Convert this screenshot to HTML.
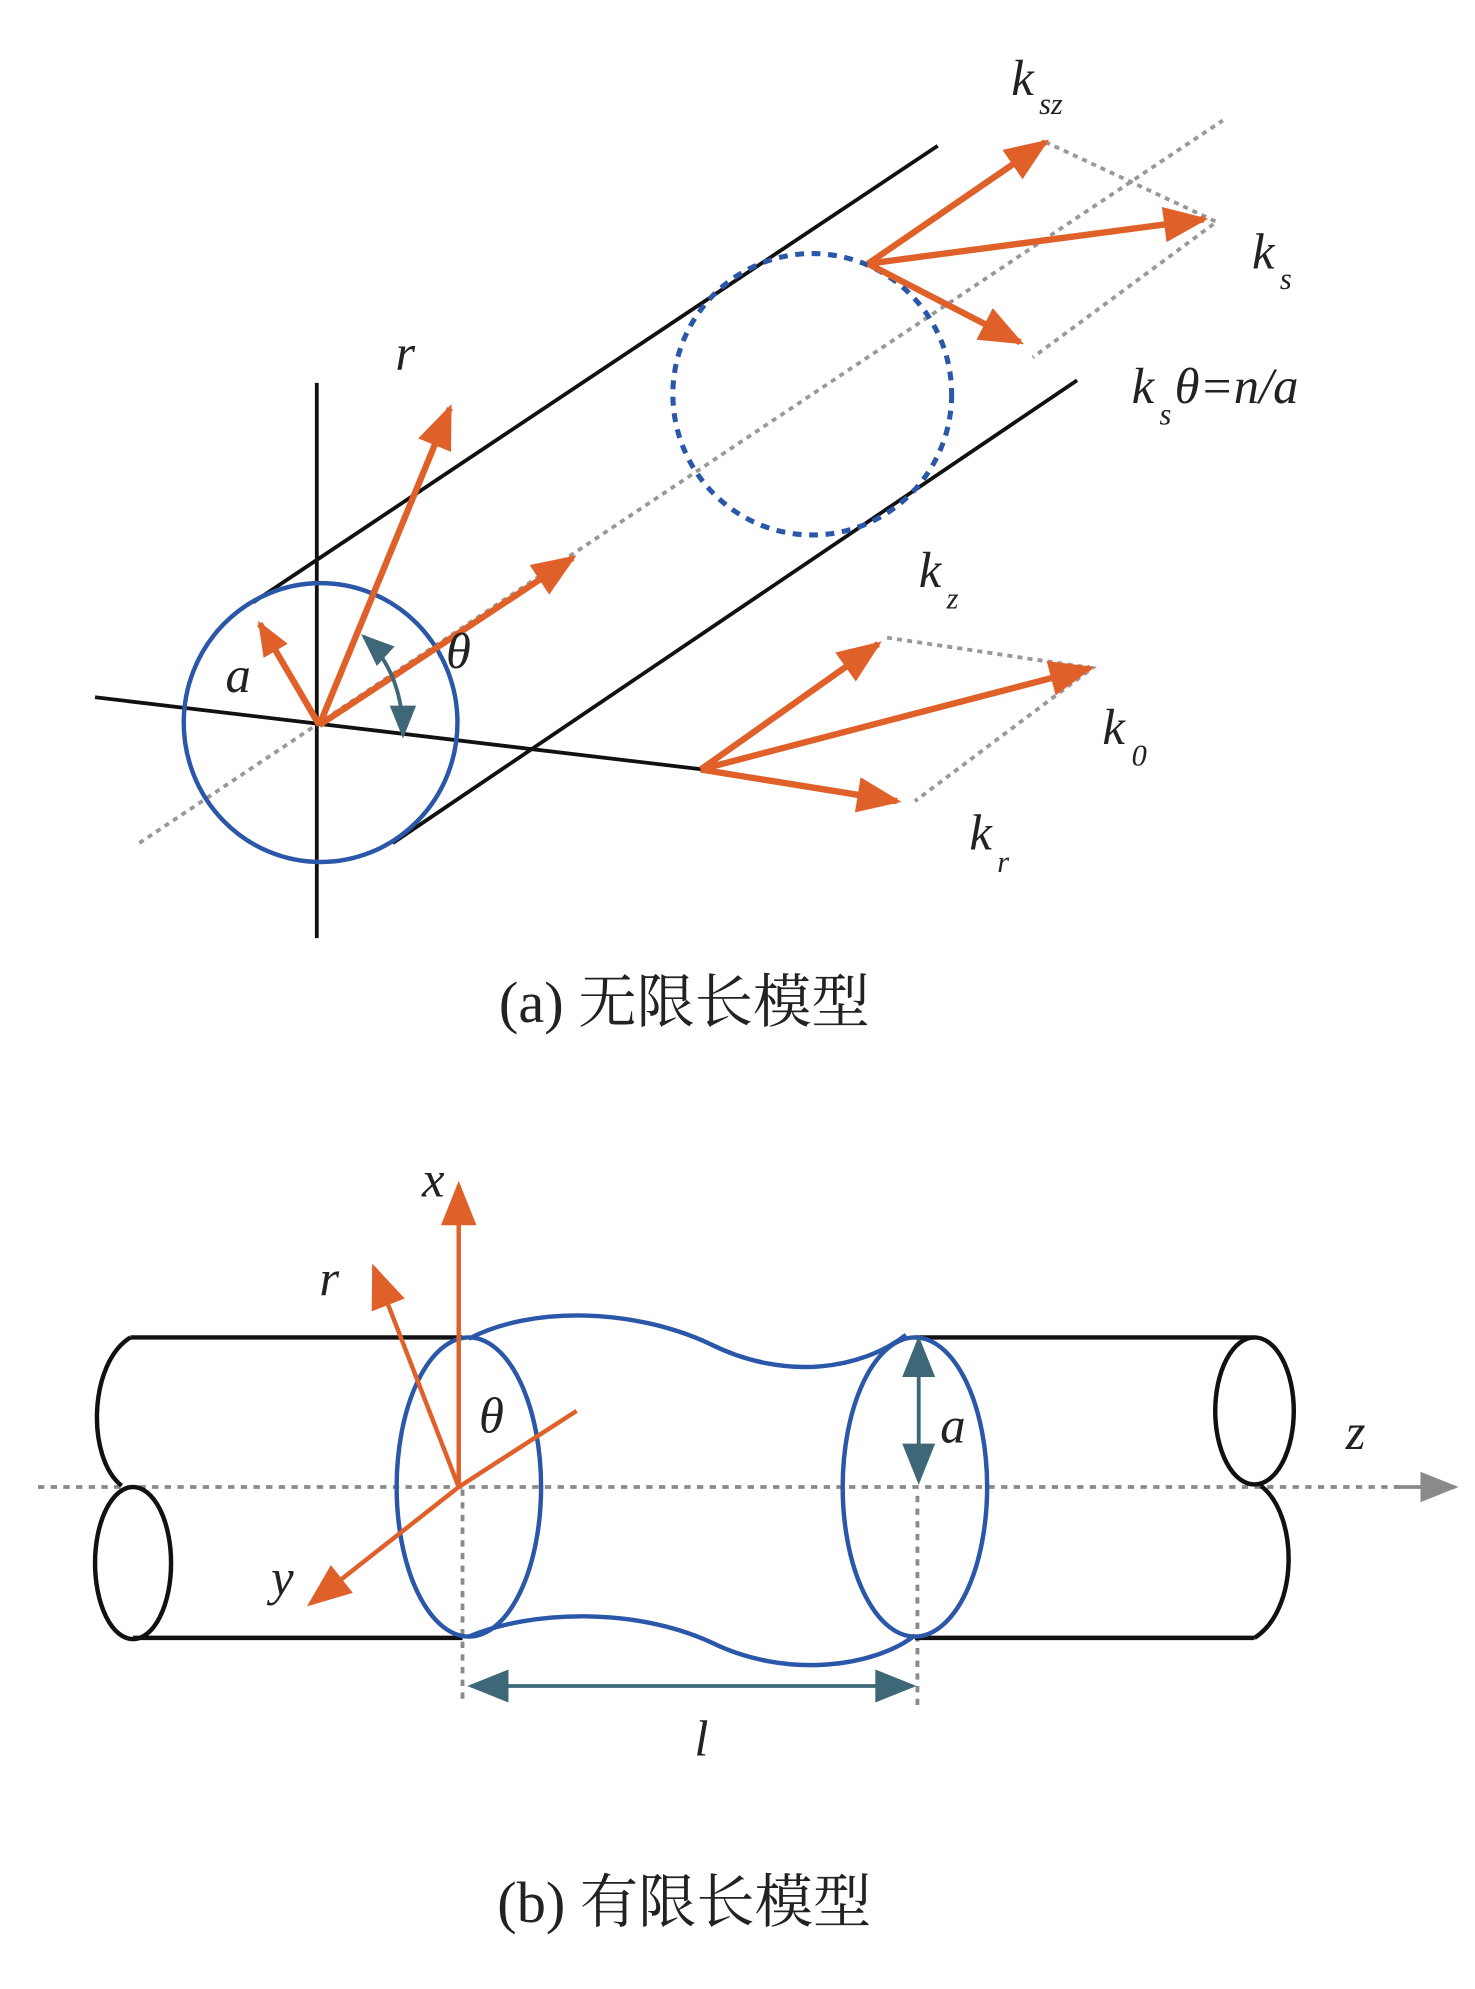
<!DOCTYPE html>
<html><head><meta charset="utf-8"><style>
html,body{margin:0;padding:0;background:#fff}
svg{display:block}
text{font-family:"Liberation Serif","Noto Serif CJK SC",serif;font-style:italic;fill:#222}
.cap{font-style:normal;font-size:46px}
</style></head><body>
<svg width="1475" height="1989" viewBox="0 0 1164 1569" preserveAspectRatio="none" xmlns="http://www.w3.org/2000/svg">
<defs>
<marker id="oa" viewBox="0 0 10 8" markerWidth="40" markerHeight="28" refX="9" refY="4" orient="auto" markerUnits="userSpaceOnUse"><path d="M0,0L10,4L0,8z" fill="#e0602a"/></marker>
<marker id="ob" viewBox="0 0 10 8" markerWidth="30" markerHeight="22" refX="9" refY="4" orient="auto" markerUnits="userSpaceOnUse"><path d="M0,0L10,4L0,8z" fill="#e0602a"/></marker>
<marker id="t" viewBox="0 0 10 8" markerWidth="40" markerHeight="26" refX="9" refY="4" orient="auto-start-reverse" markerUnits="userSpaceOnUse"><path d="M0,0L10,4L0,8z" fill="#3e6878"/></marker>
<marker id="ts" viewBox="0 0 10 8" markerWidth="26" markerHeight="24" refX="9" refY="4" orient="auto-start-reverse" markerUnits="userSpaceOnUse"><path d="M0,0L10,4L0,8z" fill="#3e6878"/></marker>
<marker id="g" viewBox="0 0 10 8" markerWidth="44" markerHeight="24" refX="9" refY="4" orient="auto" markerUnits="userSpaceOnUse"><path d="M0,0L10,4L0,8z" fill="#8a8a8a"/></marker>
</defs>
<!-- (a) -->
<g fill="none">
<line x1="110" y1="665" x2="965" y2="95" stroke="#999" stroke-width="3" stroke-dasharray="4,4"/>
<polyline points="825,112 960,175 815,282" stroke="#999" stroke-width="3" stroke-dasharray="4,4"/>
<polyline points="700,503 862,527 722,632" stroke="#999" stroke-width="3" stroke-dasharray="4,4"/>
<line x1="250" y1="302" x2="250" y2="740" stroke="#111" stroke-width="3"/>
<line x1="75" y1="550" x2="555" y2="607" stroke="#111" stroke-width="3"/>
<line x1="200" y1="475" x2="740" y2="115" stroke="#111" stroke-width="3"/>
<line x1="310" y1="665" x2="850" y2="300" stroke="#111" stroke-width="3"/>
<ellipse cx="253" cy="570" rx="108" ry="110" stroke="#2b57a8" stroke-width="3.5"/>
<ellipse cx="641" cy="311" rx="110" ry="111" stroke="#2b57a8" stroke-width="4" stroke-dasharray="7,6"/>
<g stroke="#e0602a" stroke-width="5">
<line x1="252" y1="572" x2="355" y2="322" marker-end="url(#oa)"/>
<line x1="252" y1="572" x2="452" y2="440" marker-end="url(#oa)"/>
<line x1="252" y1="572" x2="205" y2="492" marker-end="url(#ob)"/>
<line x1="685" y1="208" x2="825" y2="112" marker-end="url(#oa)"/>
<line x1="685" y1="208" x2="950" y2="173" marker-end="url(#oa)"/>
<line x1="685" y1="208" x2="805" y2="270" marker-end="url(#oa)"/>
<line x1="553" y1="607" x2="693" y2="508" marker-end="url(#oa)"/>
<line x1="553" y1="607" x2="860" y2="527" marker-end="url(#oa)"/>
<line x1="553" y1="607" x2="708" y2="632" marker-end="url(#oa)"/>
</g>
<path d="M287,502 Q318,530 318,580" stroke="#3e6878" stroke-width="3" marker-start="url(#ts)" marker-end="url(#ts)"/>
</g>
<text x="312" y="292" font-size="40">r</text>
<text x="178" y="546" font-size="40">a</text>
<text x="352" y="527" font-size="40">θ</text>
<text x="798" y="75" font-size="40">k</text><text x="820" y="90" font-size="24">sz</text>
<text x="988" y="212" font-size="40">k</text><text x="1010" y="228" font-size="24">s</text>
<text x="893" y="318" font-size="40">k</text><text x="915" y="335" font-size="24">s</text><text x="927" y="318" font-size="40">θ=n/a</text>
<text x="725" y="463" font-size="40">k</text><text x="747" y="480" font-size="24">z</text>
<text x="870" y="587" font-size="40">k</text><text x="893" y="604" font-size="24">0</text>
<text x="765" y="670" font-size="40">k</text><text x="787" y="688" font-size="24">r</text>
<text x="540" y="806" class="cap" text-anchor="middle">(a) 无限长模型</text>
<!-- (b) -->
<g fill="none" stroke-width="3.5">
<line x1="30" y1="1173" x2="1105" y2="1173" stroke="#8a8a8a" stroke-width="3" stroke-dasharray="5,5"/>
<line x1="1100" y1="1173" x2="1148" y2="1173" stroke="#8a8a8a" stroke-width="3" marker-end="url(#g)"/>
<line x1="365" y1="1175" x2="365" y2="1345" stroke="#8a8a8a" stroke-width="3" stroke-dasharray="5,5"/>
<line x1="724" y1="1180" x2="724" y2="1350" stroke="#8a8a8a" stroke-width="3" stroke-dasharray="5,5"/>
<g stroke="#111">
<line x1="103" y1="1055" x2="365" y2="1055"/>
<line x1="105" y1="1292" x2="365" y2="1292"/>
<path d="M103,1055 C70,1075 68,1150 96,1172"/>
<ellipse cx="105" cy="1233" rx="30" ry="60"/>
<line x1="722" y1="1055" x2="990" y2="1055"/>
<line x1="722" y1="1292" x2="990" y2="1292"/>
<ellipse cx="990" cy="1113" rx="31" ry="58"/>
<path d="M995,1172 C1025,1195 1025,1270 990,1292"/>
</g>
<g stroke="#2b57a8">
<ellipse cx="370" cy="1173" rx="57" ry="118"/>
<ellipse cx="722" cy="1173" rx="57" ry="118"/>
<path d="M370,1056 C420,1030 500,1032 560,1060 C620,1090 680,1080 715,1053"/>
<path d="M370,1291 C420,1270 500,1268 560,1295 C620,1325 690,1315 722,1290"/>
</g>
<line x1="372" y1="1330" x2="720" y2="1330" stroke="#3e6878" stroke-width="3" marker-start="url(#t)" marker-end="url(#t)"/>
<line x1="725" y1="1057" x2="725" y2="1168" stroke="#3e6878" stroke-width="3" marker-start="url(#t)" marker-end="url(#t)"/>
<g stroke="#e0602a" stroke-width="3.5">
<line x1="362" y1="1173" x2="362" y2="935" marker-end="url(#oa)"/>
<line x1="362" y1="1173" x2="295" y2="1000" marker-end="url(#oa)"/>
<line x1="362" y1="1173" x2="245" y2="1265" marker-end="url(#oa)"/>
<line x1="362" y1="1173" x2="455" y2="1113"/>
</g>
</g>
<text x="333" y="944" font-size="40">x</text>
<text x="252" y="1022" font-size="40">r</text>
<text x="378" y="1130" font-size="40">θ</text>
<text x="214" y="1258" font-size="40">y</text>
<text x="742" y="1138" font-size="40">a</text>
<text x="1062" y="1143" font-size="40">z</text>
<text x="548" y="1385" font-size="40">l</text>
<text x="540" y="1516" class="cap" text-anchor="middle">(b) 有限长模型</text>
</svg>
</body></html>
